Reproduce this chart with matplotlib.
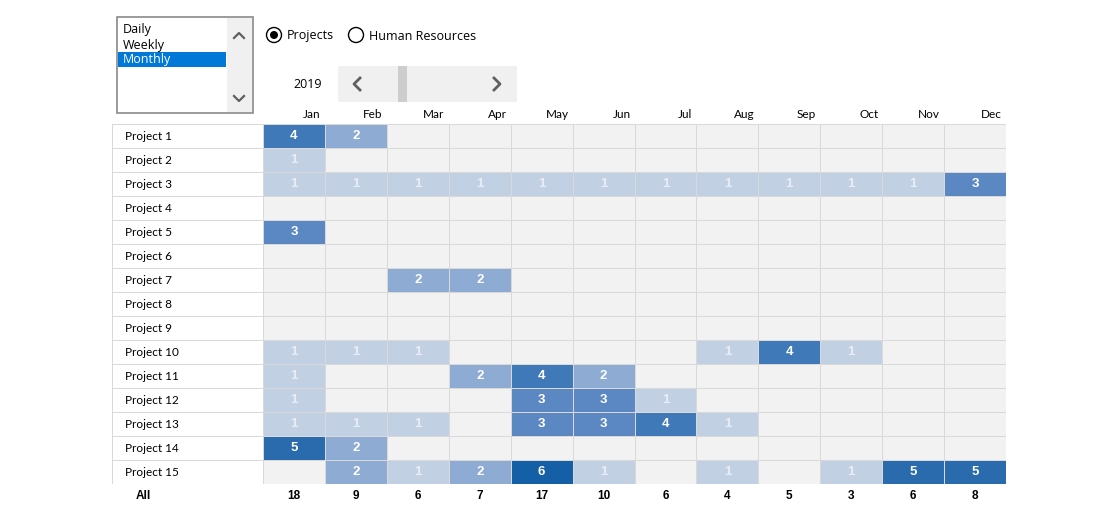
import numpy as np
import matplotlib.pyplot as plt
from matplotlib.colors import ListedColormap, BoundaryNorm
from matplotlib.patches import Rectangle, Circle

# --- data ---
months = ['Jan', 'Feb', 'Mar', 'Apr', 'May', 'Jun', 'Jul', 'Aug', 'Sep', 'Oct', 'Nov', 'Dec']
projects = ['Project %d' % i for i in range(1, 16)]
period_options = ['Daily', 'Weekly', 'Monthly']
view_options = ['Projects', 'Human Resources']
year = '2019'

counts = np.array([
    [4, 2, 0, 0, 0, 0, 0, 0, 0, 0, 0, 0],  # Project 1
    [1, 0, 0, 0, 0, 0, 0, 0, 0, 0, 0, 0],  # Project 2
    [1, 1, 1, 1, 1, 1, 1, 1, 1, 1, 1, 3],  # Project 3
    [0, 0, 0, 0, 0, 0, 0, 0, 0, 0, 0, 0],  # Project 4
    [3, 0, 0, 0, 0, 0, 0, 0, 0, 0, 0, 0],  # Project 5
    [0, 0, 0, 0, 0, 0, 0, 0, 0, 0, 0, 0],  # Project 6
    [0, 0, 2, 2, 0, 0, 0, 0, 0, 0, 0, 0],  # Project 7
    [0, 0, 0, 0, 0, 0, 0, 0, 0, 0, 0, 0],  # Project 8
    [0, 0, 0, 0, 0, 0, 0, 0, 0, 0, 0, 0],  # Project 9
    [1, 1, 1, 0, 0, 0, 0, 1, 4, 1, 0, 0],  # Project 10
    [1, 0, 0, 2, 4, 2, 0, 0, 0, 0, 0, 0],  # Project 11
    [1, 0, 0, 0, 3, 3, 1, 0, 0, 0, 0, 0],  # Project 12
    [1, 1, 1, 0, 3, 3, 4, 1, 0, 0, 0, 0],  # Project 13
    [5, 2, 0, 0, 0, 0, 0, 0, 0, 0, 0, 0],  # Project 14
    [0, 2, 1, 2, 6, 1, 0, 1, 0, 1, 5, 5],  # Project 15
])
totals = counts.sum(axis=0)

# --- styling ---
level_colors = ['#F2F2F2', '#C1D0E3', '#8EACD3', '#5B88C2', '#4079B8', '#2A6BAD', '#145FA5']
cmap = ListedColormap(level_colors)
norm = BoundaryNorm(np.arange(-0.5, 7.5, 1), cmap.N)
grid_col = '#D9D9D9'
FONT = ['Lato', 'DejaVu Sans']
BOLD_FONT = ['Liberation Sans', 'DejaVu Sans']
UI_FONT = ['Open Sans', 'DejaVu Sans']

W, H = 1120, 512
fig = plt.figure(figsize=(W / 100, H / 100), dpi=100)

# pixel geometry of the table
x_left, x_months, x_right = 112, 263, 1006
y_top, row_h = 124, 24
n_rows = len(projects)
cw = (x_right - x_months) / len(months)
label_w = (x_months - x_left) / cw

ax = fig.add_axes([x_left / W, (H - (y_top + n_rows * row_h)) / H,
                   (x_right - x_left) / W, n_rows * row_h / H])
ax.set_xlim(-label_w, len(months))
ax.set_ylim(n_rows, 0)
ax.axis('off')

ax.pcolormesh(np.arange(len(months) + 1), np.arange(n_rows + 1), counts,
              cmap=cmap, norm=norm, edgecolors=grid_col, linewidth=0.6)
ax.pcolormesh([-label_w, 0], np.arange(n_rows + 1), np.zeros((n_rows, 1)),
              cmap=ListedColormap(['white']), edgecolors=grid_col, linewidth=0.6)

for i, name in enumerate(projects):
    ax.text(-label_w + 13 / cw, i + 0.5, name, ha='left', va='center',
            fontsize=8.5, family=FONT, color='black')
    for j in range(len(months)):
        v = counts[i, j]
        if v:
            ax.text(j + 0.5, i + 0.5, str(v), ha='center', va='center',
                    fontsize=9.5, fontweight='bold', family=BOLD_FONT,
                    color='#E8EDF5' if v == 1 else 'white')

for j, m in enumerate(months):
    ax.text(j + 1 - 4 / cw, -9 / row_h, m, ha='right', va='center',
            fontsize=8.5, family=FONT, clip_on=False)
    ax.text(j + 0.5, n_rows + 12 / row_h, str(totals[j]), ha='center', va='center',
            fontsize=8.5, fontweight='bold', family=BOLD_FONT, clip_on=False)
ax.text(-label_w + 31 / cw, n_rows + 12 / row_h, 'All', ha='center', va='center',
        fontsize=8.5, fontweight='bold', family=BOLD_FONT, clip_on=False)

# --- form controls above the table (pixel coordinates) ---
ui = fig.add_axes([0, 0, 1, 1])
ui.set_xlim(0, W)
ui.set_ylim(H, 0)
ui.axis('off')

# list box
ui.add_patch(Rectangle((117, 17), 136, 96, facecolor='white', edgecolor='#8A8A8A', lw=1.2))
ui.add_patch(Rectangle((227, 18), 25, 94, facecolor='#F0F0F0', edgecolor='none'))
ui.add_patch(Rectangle((118, 52), 108, 15, facecolor='#0078D7', edgecolor='none'))
for k, opt in enumerate(period_options):
    ui.text(123, 30 + 15 * k, opt, ha='left', va='center', fontsize=9, family=UI_FONT,
            color='white' if opt == 'Monthly' else 'black')
ui.plot([234, 239, 244], [38, 33, 38], color='#606060', lw=1.6)
ui.plot([234, 239, 244], [96, 101, 96], color='#606060', lw=1.6)

# radio buttons
for opt, cx in zip(view_options, [274, 356]):
    ui.add_patch(Circle((cx, 35), 7.5, facecolor='white', edgecolor='black', lw=1))
    if opt == 'Projects':
        ui.add_patch(Circle((cx, 35), 4, facecolor='black', edgecolor='none'))
    ui.text(cx + 13, 36, opt, ha='left', va='center', fontsize=9, family=UI_FONT)

# year scroll bar
ui.text(308, 85, year, ha='center', va='center', fontsize=9, family=UI_FONT)
ui.add_patch(Rectangle((338, 66), 179, 36, facecolor='#F0F0F0', edgecolor='none'))
ui.add_patch(Rectangle((398, 66), 9, 36, facecolor='#CDCDCD', edgecolor='none'))
ui.plot([360, 354, 360], [78, 84, 90], color='#606060', lw=2)
ui.plot([494, 500, 494], [78, 84, 90], color='#606060', lw=2)

fig.savefig('out.png', dpi=100, facecolor='white')
